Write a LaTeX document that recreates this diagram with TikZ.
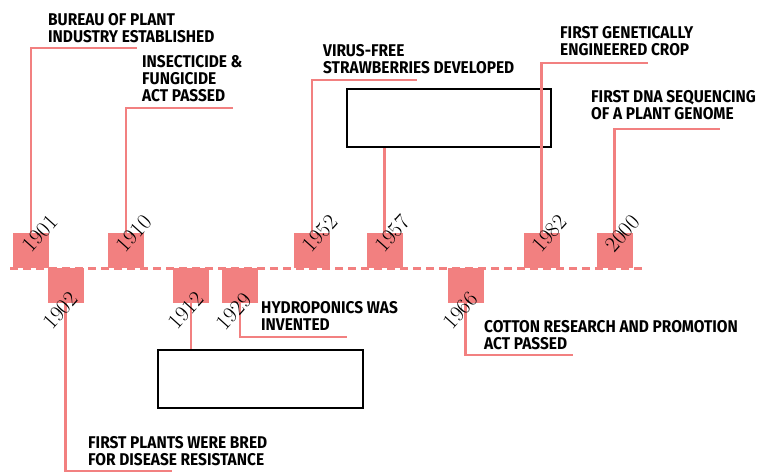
\documentclass[tikz,border=0pt]{standalone}
\usepackage{fontspec}
\newfontfamily\labfont[FakeStretch=0.91]{Fira Sans}
\definecolor{tlpink}{RGB}{242,128,128}
\begin{document}
\begin{tikzpicture}[x=1pt,y=-1pt,
  sq/.style={fill=tlpink,draw=none,minimum width=36pt,minimum height=35pt,inner sep=0pt},
  yr/.style={font=\fontsize{22}{22}\selectfont,rotate=48,inner sep=0pt},
  conn/.style={draw=tlpink,line width=2.5pt},
  lab/.style={font=\labfont\bfseries\fontsize{17}{17.3}\selectfont,align=left,inner sep=0pt,anchor=south west,text depth=0pt},
  blank/.style={draw=black,line width=2pt,fill=white}]
\useasboundingbox (0,0) rectangle (760,474);
% timeline
\coordinate (t0) at (10,268);
\coordinate (t1) at (642,268);
% squares above
\node[sq,anchor=south] (s1901) at (31,268) {};
\node[sq,anchor=south] (s1910) at (126,268) {};
\node[sq,anchor=south] (s1952) at (312,268) {};
\node[sq,anchor=south] (s1957) at (384.5,268) {};
\node[sq,anchor=south] (s1982) at (541.5,268) {};
\node[sq,anchor=south] (s2000) at (614.5,268) {};
% squares below
\node[sq,anchor=north] (s1902) at (65.5,268) {};
\node[sq,anchor=north] (s1912) at (191,268) {};
\node[sq,anchor=north] (s1929) at (240,268) {};
\node[sq,anchor=north] (s1966) at (465.5,268) {};
\draw[tlpink,line width=3pt,dash pattern=on 8pt off 5pt] (t0) -- (t1);
% blank boxes
\node[blank,minimum width=204pt,minimum height=58pt,anchor=north west] (box1) at (346,88) {};
\node[blank,minimum width=205pt,minimum height=58pt,anchor=north west] (box2) at (157,349) {};
% labels
\node[lab] (l1901) at (48,43) {BUREAU OF PLANT\\INDUSTRY ESTABLISHED};
\node[lab] (l1910) at (142,102) {INSECTICIDE \&\\FUNGICIDE\\ACT PASSED};
\node[lab] (l1952) at (323,74) {VIRUS-FREE\\STRAWBERRIES DEVELOPED};
\node[lab] (l1982) at (560,56) {FIRST GENETICALLY\\ENGINEERED CROP};
\node[lab] (l2000) at (591,120) {FIRST DNA SEQUENCING\\OF A PLANT GENOME};
\node[lab] (l1902) at (88,466) {FIRST PLANTS WERE BRED\\FOR DISEASE RESISTANCE};
\node[lab] (l1929) at (261,331) {HYDROPONICS WAS\\INVENTED};
\node[lab] (l1966) at (484,350) {COTTON RESEARCH AND PROMOTION\\ACT PASSED};
% connector ends
\coordinate (e1901) at (137,48);
\coordinate (e1910) at (233,108);
\coordinate (e1952) at (417,80);
\coordinate (e1982) at (648,63);
\coordinate (e2000) at (720,129);
\coordinate (e1902) at (172,471);
\coordinate (e1929) at (347,337);
\coordinate (e1966) at (573,355);
% connectors
\draw[conn] (s1901.north) |- (e1901);
\draw[conn] (s1910.north) |- (e1910);
\draw[conn] (s1952.north) |- (e1952);
\draw[conn] (s1982.north) |- (e1982);
\draw[conn] (s2000.north) |- (e2000);
\draw[conn] (s1957.north) -- (s1957.north |- box1.south);
\draw[conn] (s1902.south) |- (e1902);
\draw[conn] (s1929.south) |- (e1929);
\draw[conn] (s1966.south) |- (e1966);
\draw[conn] (s1912.south) -- (s1912.south |- box2.north);
% years
\node[yr] (y1901) at ([shift={(9,-17)}]s1901.center) {1901};
\node[yr] (y1910) at ([shift={(8,-17)}]s1910.center) {1910};
\node[yr] (y1952) at ([shift={(8,-17)}]s1952.center) {1952};
\node[yr] (y1957) at ([shift={(8,-17)}]s1957.center) {1957};
\node[yr] (y1982) at ([shift={(8,-17)}]s1982.center) {1982};
\node[yr] (y2000) at ([shift={(8,-17)}]s2000.center) {2000};
\node[yr] (y1902) at ([shift={(-5,25)}]s1902.center) {1902};
\node[yr] (y1912) at ([shift={(-5,25)}]s1912.center) {1912};
\node[yr] (y1929) at ([shift={(-6,26)}]s1929.center) {1929};
\node[yr] (y1966) at ([shift={(-5,25)}]s1966.center) {1966};
\end{tikzpicture}
\end{document}
